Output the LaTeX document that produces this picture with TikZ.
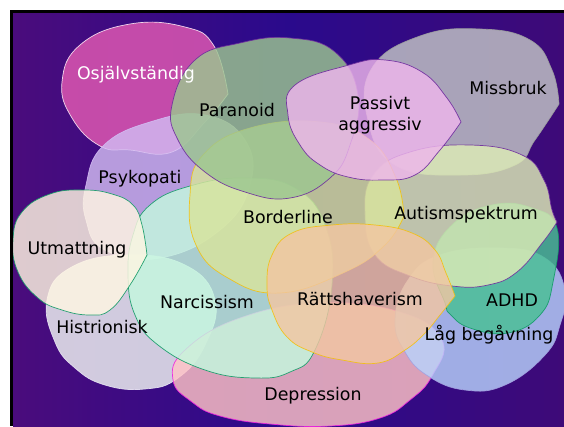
\documentclass[tikz,border=0pt]{standalone}
\usepackage{fontspec}
\setmainfont{DejaVu Sans}
\usetikzlibrary{positioning}
\definecolor{BgSide}{HTML}{4A0C7C}
\definecolor{BgMid}{HTML}{2A0A8C}
\definecolor{BgRight}{HTML}{3E0A78}
\definecolor{Osj}{HTML}{E35AB3}
\definecolor{Missb}{HTML}{C3C5C6}
\definecolor{Psyk}{HTML}{D2BBF2}
\definecolor{Paran}{HTML}{9CC690}
\definecolor{Passiv}{HTML}{EEB6EC}
\definecolor{Histr}{HTML}{F2F6F4}
\definecolor{Depr}{HTML}{FFC3C6}
\definecolor{Lag}{HTML}{B8D2FC}
\definecolor{Adhd}{HTML}{48C094}
\definecolor{Autism}{HTML}{DDEBB6}
\definecolor{Narc}{HTML}{C4F8DE}
\definecolor{Utm}{HTML}{FFF6E2}
\definecolor{Border}{HTML}{D8E49C}
\definecolor{Ratt}{HTML}{F2C6A2}
\definecolor{LineViolet}{HTML}{6E2C9E}
\definecolor{LineGold}{HTML}{F2C010}
\definecolor{LineGreen}{HTML}{129A66}
\definecolor{LineMag}{HTML}{F020E0}
\tikzset{
    blob/.style 2 args={fill=#1, draw=#2, fill opacity=0.82, draw opacity=0.9, line width=0.7pt},
    lbl/.style={font=\fontsize{17.4}{21}\selectfont, text=black, align=center, inner sep=1pt},
}

\begin{document}
\begin{tikzpicture}[x=1pt, y=-1pt]
    \useasboundingbox (0,0) rectangle (564,426);
    % sfondo
    \fill[white] (0,0) rectangle (564,426);
    \shade[left color=BgSide, right color=BgRight, middle color=BgMid] (13,13) rectangle (564,426);
    \fill[black] (10,10) rectangle (564,13);
    \fill[black] (10,10) rectangle (13,426);

    \begin{scope}
        \clip (13,13) rectangle (564,426);
        % bolle in fondo
        \draw[blob={Osj}{white!85!Osj}] plot[smooth, tension=0.75] coordinates {(228,94) (205,122) (172,152) (130,150) (100,146) (72,118) (62,82) (80,45) (130,24) (185,27) (214,46) (228,94)} -- cycle;
        \draw[blob={Missb}{Missb!80!black}] plot[smooth, tension=0.75] coordinates {(559,104) (535,140) (515,165) (460,175) (395,165) (368,120) (372,68) (420,36) (480,29) (530,40) (552,70) (559,104)} -- cycle;
        \draw[blob={Psyk}{Psyk}] plot[smooth cycle, tension=0.75] coordinates {(86,185) (103,146) (150,122) (205,115) (245,140) (250,185) (220,230) (160,258) (105,250) (86,220)};

        % bolle in basso
        \draw[blob={Histr}{Histr!70!Psyk}] plot[smooth cycle, tension=0.75] coordinates {(47,300) (55,342) (75,368) (105,385) (145,389) (178,378) (205,345) (215,300) (185,265) (125,255) (70,268)};
        \draw[blob={Depr}{LineMag}] plot[smooth cycle, tension=0.75] coordinates {(173,380) (192,402) (220,416) (270,424) (330,426) (380,418) (410,400) (432,376) (442,340) (400,312) (320,303) (240,318) (185,350)};
        \draw[blob={Lag}{Lag!70!LineViolet}] plot[smooth cycle, tension=0.75] coordinates {(395,320) (408,280) (440,255) (500,248) (545,258) (565,290) (560,325) (545,355) (505,385) (465,390) (428,376) (405,352)};
        \draw[blob={Adhd}{LineGreen}] plot[smooth cycle, tension=0.75] coordinates {(445,303) (433,262) (452,225) (492,205) (532,208) (557,228) (553,282) (540,315) (508,333) (470,328) (450,314)};
        \draw[blob={Autism}{LineViolet}] plot[smooth, tension=0.75] coordinates {(557,222) (543,242) (517,272) (488,285) (452,286) (410,276) (375,255) (365,215) (373,175) (410,152) (470,145) (522,155) (544,180) (552,210) (557,222)} -- cycle;
        \draw[blob={Narc}{LineGreen}] plot[smooth cycle, tension=0.75] coordinates {(128,275) (133,235) (150,205) (190,186) (245,178) (295,188) (325,225) (332,285) (315,350) (290,372) (255,378) (205,370) (158,345) (135,315)};
        \draw[blob={Utm}{LineGreen}] plot[smooth, tension=0.75] coordinates {(147,255) (130,285) (110,310) (90,315) (62,310) (38,298) (18,272) (13,240) (22,212) (50,194) (83,190) (112,194) (133,205) (142,225) (147,255)} -- cycle;
        \draw[blob={Border}{LineGold}] plot[smooth, tension=0.75] coordinates {(404,216) (385,245) (345,272) (280,293) (228,278) (196,245) (190,195) (203,155) (250,128) (320,122) (370,140) (396,178) (404,216)} -- cycle;

        % bolle in alto, sopra Borderline
        \draw[blob={Paran}{LineViolet}] plot[smooth cycle, tension=0.75] coordinates {(172,105) (195,60) (240,43) (290,38) (335,52) (358,95) (350,145) (330,178) (290,198) (245,192) (205,172) (178,140)};
        \draw[blob={Passiv}{LineViolet}] plot[smooth, tension=0.75] coordinates {(461,122) (440,150) (415,175) (382,180) (348,177) (320,165) (300,145) (288,115) (295,85) (349,65) (385,60) (422,72) (447,98) (461,122)} -- cycle;

        \draw[blob={Ratt}{LineGold}] plot[smooth, tension=0.75] coordinates {(455,296) (440,315) (425,333) (405,350) (378,363) (342,360) (312,352) (287,337) (272,310) (267,285) (272,255) (292,233) (332,225) (375,225) (412,233) (435,250) (446,273) (455,296)} -- cycle;
    \end{scope}

    % etichette
    \node[lbl, text=white] (osj) at (136,75) {Osjälvständig};
    \node[lbl] (paranoid) at (237,110) {Paranoid};
    \node[lbl] (passivt) at (380,115) {Passivt\\aggressiv};
    \node[lbl] (missbruk) at (508,88) {Missbruk};
    \node[lbl] (psykopati) at (140,179) {Psykopati};
    \node[lbl] (borderline) at (288,217) {Borderline};
    \node[lbl] (autism) at (466,215) {Autismspektrum};
    \node[lbl] (utmattning) at (77,250) {Utmattning};
    \node[lbl] (narcissism) at (207,302) {Narcissism};
    \node[lbl] (ratt) at (360,299) {Rättshaverism};
    \node[lbl] (adhd) at (512,300) {ADHD};
    \node[lbl] (histrionisk) at (102,327) {Histrionisk};
    \node[lbl] (lag) at (489,335) {Låg begåvning};
    \node[lbl] (depression) at (313,396) {Depression};
\end{tikzpicture}
\end{document}
